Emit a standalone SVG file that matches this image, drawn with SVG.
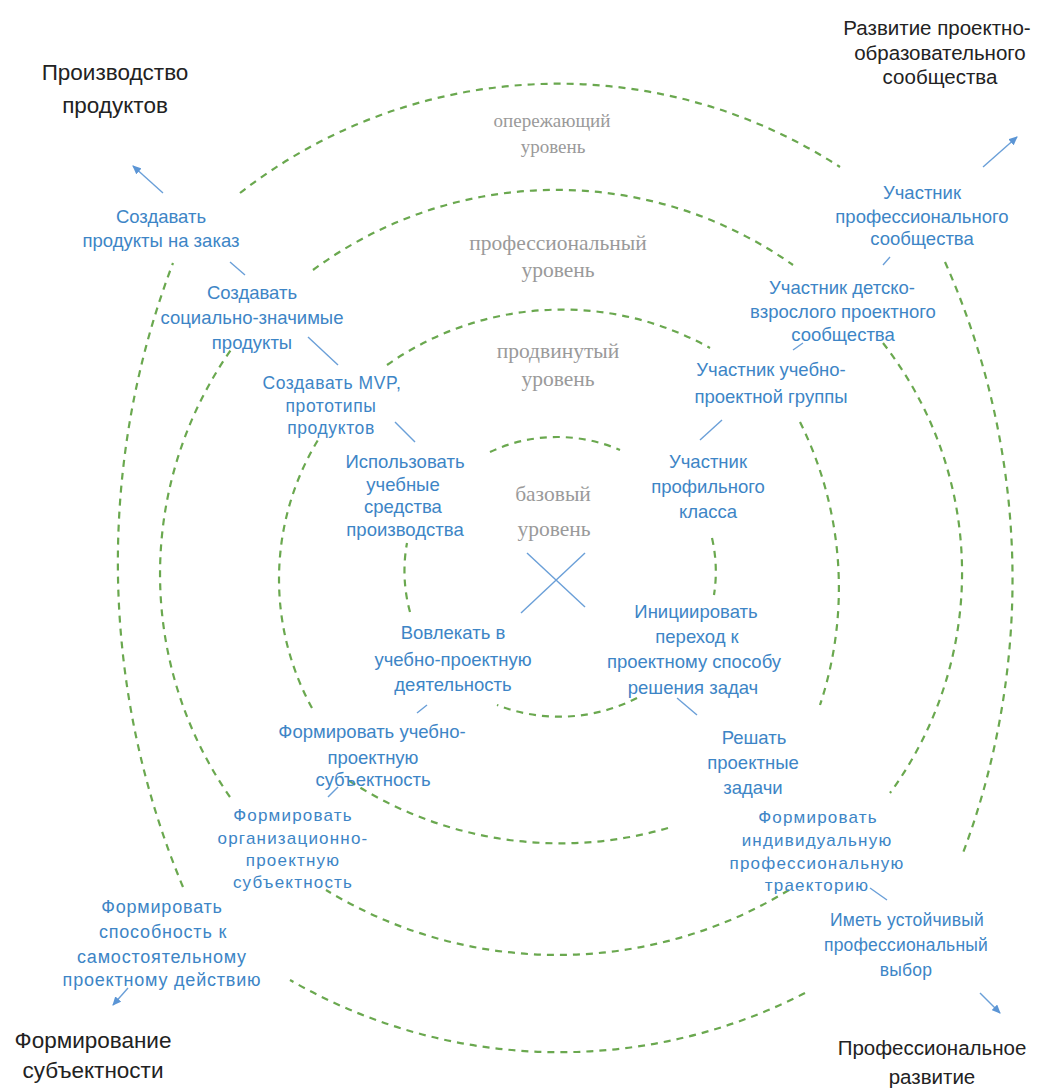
<svg xmlns="http://www.w3.org/2000/svg" width="1049" height="1089" viewBox="0 0 1049 1089">
<defs>
<marker id="arr" markerUnits="userSpaceOnUse" markerWidth="9" markerHeight="8" refX="8" refY="4" orient="auto">
<path d="M0,0 L9,4 L0,8 z" fill="#5b95d5"/>
</marker>
<style>
.ring{fill:none;stroke:#6aa84f;stroke-width:2.2;stroke-dasharray:7 6}
.ln{fill:none;stroke:#6a9fd8;stroke-width:1.4}
.b{font-family:"Liberation Sans",Arial,sans-serif;font-size:18.5px;fill:#3d85c6;text-anchor:middle}
.bs{font-family:"Liberation Sans",Arial,sans-serif;font-size:17px;letter-spacing:1.2px;fill:#3d85c6;text-anchor:middle}
.bm{font-family:"Liberation Sans",Arial,sans-serif;font-size:17.5px;letter-spacing:0.6px;fill:#3d85c6;text-anchor:middle}
.bk{font-family:"Liberation Sans",Arial,sans-serif;font-size:22.5px;fill:#222;text-anchor:middle}
.bkr{font-family:"Liberation Sans",Arial,sans-serif;font-size:20.5px;fill:#222;text-anchor:middle}
.g{font-family:"Liberation Serif","Times New Roman",serif;font-size:21.5px;fill:#9a9a9a;text-anchor:middle}
</style>
</defs>
<rect width="1049" height="1089" fill="#fff"/>

<g id="rings">
<g id="ring-outer">
<path class="ring" d="M240,193 A518,518 0 0 1 840,167"/>
<path class="ring" d="M945,262 A780,780 0 0 1 963,853"/>
<path class="ring" d="M805,993 A539,539 0 0 1 290,980"/>
<path class="ring" d="M183,887 A841,841 0 0 1 173,263"/>
</g>
<g id="ring-prof">
<path class="ring" d="M313,270 A410,410 0 0 1 793,265"/>
<path class="ring" d="M883,343 A373,373 0 0 1 890,793"/>
<path class="ring" d="M789,890 A445,445 0 0 1 326,890"/>
<path class="ring" d="M230,797 A390,390 0 0 1 233,347"/>
</g>
<g id="ring-adv">
<path class="ring" d="M387,365 A304,304 0 0 1 710,348"/>
<path class="ring" d="M800,422 A373,373 0 0 1 820,705"/>
<path class="ring" d="M668,828 A387,387 0 0 1 345,778"/>
<path class="ring" d="M312,708 A268,268 0 0 1 318,440"/>
</g>
<g id="ring-base">
<path class="ring" d="M490,452 A158,158 0 0 1 620,450"/>
<path class="ring" d="M712,538 A150,150 0 0 1 714,595"/>
<path class="ring" d="M637,698 A171,171 0 0 1 497,705"/>
<path class="ring" d="M410,612 A155,155 0 0 1 407,543"/>
</g>
</g>

<g id="connectors">
<line class="ln" x1="163" y1="193" x2="133" y2="166" marker-end="url(#arr)"/>
<line class="ln" x1="230" y1="262" x2="245" y2="275"/>
<line class="ln" x1="308" y1="337" x2="338" y2="365"/>
<line class="ln" x1="395" y1="422" x2="415" y2="442"/>
<line class="ln" x1="722" y1="420" x2="700" y2="440"/>
<line class="ln" x1="803" y1="343" x2="793" y2="350"/>
<line class="ln" x1="890" y1="257" x2="883" y2="265"/>
<line class="ln" x1="983" y1="167" x2="1017" y2="137" marker-end="url(#arr)"/>
<line class="ln" x1="677" y1="698" x2="697" y2="715"/>
<line class="ln" x1="427" y1="705" x2="417" y2="713"/>
<line class="ln" x1="338" y1="787" x2="328" y2="797"/>
<line class="ln" x1="870" y1="888" x2="887" y2="900"/>
<line class="ln" x1="980" y1="993" x2="1000" y2="1013" marker-end="url(#arr)"/>
<line class="ln" x1="128" y1="988" x2="113" y2="1005" marker-end="url(#arr)"/>
<line class="ln" x1="527" y1="553" x2="585" y2="607"/>
<line class="ln" x1="585" y1="553" x2="521" y2="613"/>
</g>

<g id="level-labels">
<text class="g" style="font-size:19px" x="552" y="127">опережающий</text>
<text class="g" style="font-size:19px" x="553" y="153">уровень</text>
<text class="g" x="558" y="250">профессиональный</text>
<text class="g" x="558" y="277">уровень</text>
<text class="g" x="558" y="358">продвинутый</text>
<text class="g" x="558" y="386">уровень</text>
<text class="g" x="553" y="501">базовый</text>
<text class="g" x="554" y="536">уровень</text>
</g>

<g id="dir-production"><text class="bk" x="115" y="80">Производство</text><text class="bk" x="115" y="113">продуктов</text></g>
<g id="dir-community"><text class="bkr" x="937" y="35">Развитие проектно-</text><text class="bkr" x="940" y="60">образовательного</text><text class="bkr" x="940" y="84">сообщества</text></g>
<g id="dir-subject"><text class="bk" x="93" y="1048">Формирование</text><text class="bk" x="93" y="1078">субъектности</text></g>
<g id="dir-prof"><text class="bkr" x="932" y="1055">Профессиональное</text><text class="bkr" x="932" y="1084">развитие</text></g>

<g id="n-order"><text class="b" x="161" y="223">Создавать</text><text class="b" x="161" y="247">продукты на заказ</text></g>
<g id="n-social"><text class="b" x="252" y="299">Создавать</text><text class="b" x="252" y="324">социально-значимые</text><text class="b" x="252" y="349">продукты</text></g>
<g id="n-mvp"><text class="bm" x="332" y="389">Создавать MVP,</text><text class="bm" x="331" y="412">прототипы</text><text class="bm" x="331" y="434">продуктов</text></g>
<g id="n-tools"><text class="b" x="405" y="468">Использовать</text><text class="b" x="403" y="491">учебные</text><text class="b" x="403" y="513">средства</text><text class="b" x="405" y="536">производства</text></g>
<g id="n-profcomm"><text class="b" x="922" y="199">Участник</text><text class="b" x="922" y="223">профессионального</text><text class="b" x="922" y="245">сообщества</text></g>
<g id="n-kids"><text class="b" x="842" y="294">Участник детско-</text><text class="b" x="843" y="318">взрослого проектного</text><text class="b" x="843" y="341">сообщества</text></g>
<g id="n-group"><text class="b" x="771" y="376">Участник учебно-</text><text class="b" x="771" y="403">проектной группы</text></g>
<g id="n-class"><text class="b" x="708" y="468">Участник</text><text class="b" x="708" y="493">профильного</text><text class="b" x="708" y="518">класса</text></g>
<g id="n-init"><text class="b" x="696" y="618">Инициировать</text><text class="b" x="697" y="643">переход к</text><text class="b" x="694" y="668">проектному способу</text><text class="b" x="693" y="694">решения задач</text></g>
<g id="n-involve"><text class="b" x="453" y="639">Вовлекать в</text><text class="b" x="453" y="666">учебно-проектную</text><text class="b" x="453" y="691">деятельность</text></g>
<g id="n-study"><text class="b" x="372" y="738">Формировать учебно-</text><text class="b" x="373" y="764">проектную</text><text class="b" x="373" y="786">субъектность</text></g>
<g id="n-solve"><text class="b" x="754" y="744">Решать</text><text class="b" x="753" y="769">проектные</text><text class="b" x="753" y="794">задачи</text></g>
<g id="n-org"><text class="bs" x="293" y="821">Формировать</text><text class="bs" x="293" y="844">организационно-</text><text class="bs" x="293" y="866">проектную</text><text class="bs" x="293" y="888">субъектность</text></g>
<g id="n-traj"><text class="bs" x="818" y="823">Формировать</text><text class="bs" x="817" y="846">индивидуальную</text><text class="bs" x="817" y="869">профессиональную</text><text class="bs" x="817" y="891">траекторию</text></g>
<g id="n-self"><text class="b" style="font-size:18px;letter-spacing:0.8px" x="162" y="913">Формировать</text><text class="b" style="font-size:18px;letter-spacing:0.8px" x="163" y="938">способность к</text><text class="b" style="font-size:18px;letter-spacing:0.8px" x="162" y="963">самостоятельному</text><text class="b" style="font-size:18px;letter-spacing:0.8px" x="162" y="986">проектному действию</text></g>
<g id="n-choice"><text class="bm" style="letter-spacing:0.2px" x="907" y="926">Иметь устойчивый</text><text class="bm" style="letter-spacing:0.2px" x="906" y="951">профессиональный</text><text class="bm" style="letter-spacing:0.2px" x="906" y="976">выбор</text></g>
</svg>
